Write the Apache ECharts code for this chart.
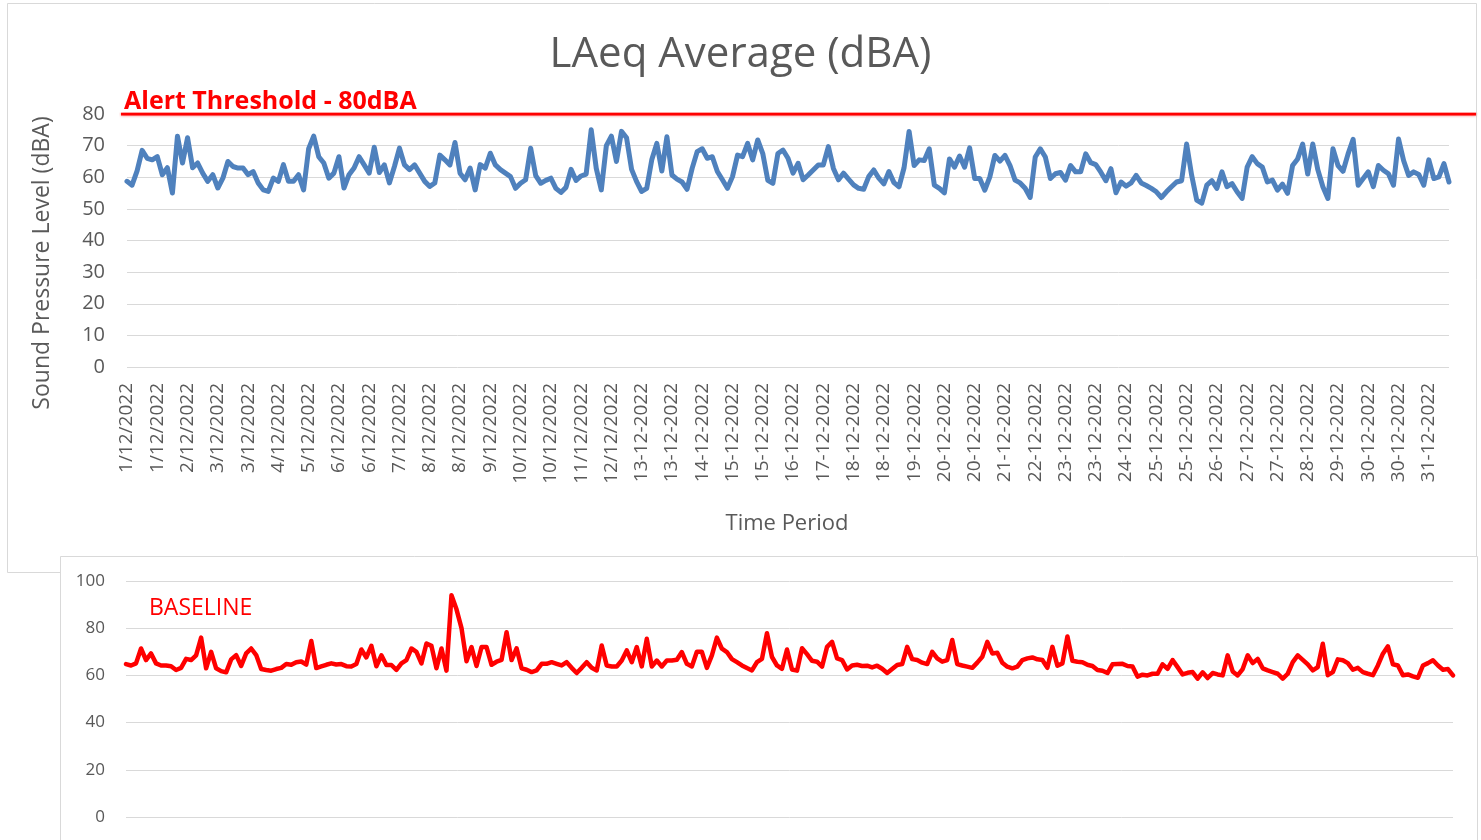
<!DOCTYPE html>
<html>
<head>
<meta charset="utf-8">
<script src="https://cdn.jsdelivr.net/npm/echarts@6/dist/echarts.min.js"></script>
<style>
html,body{margin:0;padding:0;background:#fff;}
#chart{width:1481px;height:840px;}
</style>
</head>
<body>
<div id="chart"></div>
<script>
// ---- data ----
const tickLabels = ["1/12/2022","1/12/2022","2/12/2022","3/12/2022","3/12/2022","4/12/2022","5/12/2022","6/12/2022","6/12/2022","7/12/2022","8/12/2022","8/12/2022","9/12/2022","10/12/2022","10/12/2022","11/12/2022","12/12/2022","13-12-2022","13-12-2022","14-12-2022","15-12-2022","15-12-2022","16-12-2022","17-12-2022","18-12-2022","18-12-2022","19-12-2022","20-12-2022","20-12-2022","21-12-2022","22-12-2022","23-12-2022","23-12-2022","24-12-2022","25-12-2022","25-12-2022","26-12-2022","27-12-2022","27-12-2022","28-12-2022","29-12-2022","30-12-2022","30-12-2022","31-12-2022"];
const pointsPerTick = 6;

const laeq = [58.7,57.5,62,68.5,66,65.5,66.5,60.8,63,55,73,64.5,72.5,63,64.5,61.3,58.7,60.8,56.6,59.7,
65,63.4,62.9,62.9,60.8,61.8,58.2,56,55.5,59.7,58.7,64,58.7,58.7,60.8,56,69,73,66.5,64.5,
59.7,61.3,66.5,56.6,60.8,62.9,66.5,63.9,61.3,69.5,61.5,63.9,58.2,63.4,69.2,63.9,62.4,63.9,61.3,58.7,
57.1,58.2,67,65.5,63.9,71,61.3,59.2,62.9,56,64,62.9,67.6,63.9,62.4,61.3,60.2,56.5,58.1,59.2,
69.2,60.5,58.1,59,59.7,56.5,55.2,56.8,62.5,59,60.4,61,75,62.8,56,70,73,65,74.5,72.5,
62.5,58.6,55.5,56.5,65.5,70.7,62,72.8,60.7,59.4,58.5,56.2,62.8,68.1,69,66,66.5,61.8,59.2,56.5,
60.2,67,66.5,70.7,65.5,71.8,67.5,59,58.1,67.5,68.6,66,61.3,64.4,59.2,60.7,62.3,63.9,63.9,69.7,
62.8,59.2,61.3,59.4,57.6,56.5,56.2,60.2,62.3,59.7,57.9,61.8,58.3,57,63,74.5,63.7,65.5,65.3,69,
57.5,56.5,55.1,65.8,63.2,66.7,63.2,69.3,59.6,59.6,55.9,60.1,66.9,65.1,66.9,63.7,59.1,58.2,56.5,53.6,
66.4,69,66.4,59.6,61.1,61.5,59.1,63.7,61.7,61.7,67.4,64.6,64,61.6,58.9,62.7,55.1,58.5,57.2,58.2,
60.6,58.2,57.4,56.5,55.4,53.6,55.4,57,58.5,58.9,70.5,60.6,52.8,51.8,57.5,58.9,56.5,61.7,57,58,
55.4,53.3,63.2,66.5,64.3,63.2,58.5,59.1,55.9,57.8,54.9,63.7,65.8,70.5,61,70.5,62.4,57,53.3,69,
63.7,61.9,67.4,72,57.5,59.6,61.7,57,63.7,62.2,61.1,57.5,72.1,65.3,60.6,61.7,60.9,57.5,65.5,59.6,
60.1,64.3,58.5];

const baseline = [64.8,64.2,65.1,71.4,66.5,69.3,65.1,64.2,64.2,63.9,62.3,63.2,67,66.5,68.5,76,63,70,63,61.8,
61.3,66.8,68.6,64,69.3,71.4,68.6,62.7,62.3,62,62.7,63.2,64.8,64.5,65.6,65.9,64.6,74.6,63.1,63.8,
64.5,65.1,64.6,64.8,63.9,63.8,64.8,71,67.6,72.5,63.9,68.5,64.4,64.4,62.3,65.1,66.5,71.4,70,65.1,
73.5,72.5,63,71.4,62,94,88,80,66,72,64,72,72,64.5,65.8,66.6,78.3,66.5,71.5,63,
62.4,61.4,62.1,64.9,64.9,65.6,64.9,64.2,65.6,63.2,61,63.2,65.6,63.2,62.1,72.7,64.2,63.8,63.8,66.3,
70.6,65.6,72,63.8,75.5,63.8,66.3,63.8,66.3,66.3,66.6,69.9,64.9,63.8,70,70,63.2,68.5,76,71.3,
69.9,66.9,65.6,64.2,63.1,62.1,65.6,67,77.9,67.8,64.2,62.8,71,62.5,62,71.5,69,66.2,65.8,63.7,
72.1,74.2,67.2,66.5,62.5,64.2,64.5,64,64.1,63.4,64.1,62.8,61,62.7,64.4,64.8,72.1,66.9,66.5,65.4,
64.8,70,67.2,65.8,66.5,75,64.8,64.2,63.7,63.2,65.4,67.9,74.2,69.3,69.6,65.4,63.7,63,63.7,66.5,
67.2,67.6,66.8,66.5,63.2,72.1,64.1,65.1,76.5,66.2,65.8,65.6,64.5,64,62.3,62,61,64.7,64.8,64.9,
64,63.8,59.5,60.3,60,60.7,60.7,64.7,62.8,66.5,63.5,60.4,61.1,61.4,58.6,61.3,58.9,61,60.4,60,
68.5,61.7,60,62.7,68.5,65.2,67,63,62.1,61.4,60.7,58.6,60.7,65.6,68.5,66.6,64.7,62.1,63.5,73.4,
60.1,61.4,66.8,66.4,65.2,62.4,63.2,61.4,60.7,60.1,64.2,69.2,72.3,64.7,64.2,60.1,60.4,59.6,59,64.2,
65.2,66.4,64.2,62.4,62.7,60];

const alertThreshold = 80;
const titleText = "LAeq Average (dBA)";
const yAxisTitle = "Sound Pressure Level (dBA)";
const xAxisTitle = "Time Period";
const alertText = "Alert Threshold - 80dBA";
const baselineText = "BASELINE";

// ---- build ----
const catTop = laeq.map((_, i) => (i % pointsPerTick === 0 ? tickLabels[i / pointsPerTick] : ''));
const catBottom = baseline.map((_, i) => String(i));

const FONT = '"Open Sans", "Liberation Sans", sans-serif';
const GREY = '#595959';
const GRID_C = '#d9d9d9';

const chart = echarts.init(document.getElementById('chart'), null, {renderer: 'canvas'});
chart.setOption({
  animation: false,
  backgroundColor: '#ffffff',
  textStyle: {fontFamily: FONT},
  title: {
    text: titleText, left: 'center', top: 29,
    textStyle: {fontSize: 42, fontWeight: 'normal', color: GREY, fontFamily: FONT}
  },
  graphic: [
    {type: 'polyline', silent: true, z: 0,
      shape: {points: [[60.5, 572.5], [7.5, 572.5], [7.5, 3.5], [1476.5, 3.5], [1476.5, 556]]},
      style: {stroke: GRID_C, fill: null, lineWidth: 1}},
    {type: 'rect', silent: true, z: 0,
      shape: {x: 60.5, y: 556.5, width: 1417, height: 300},
      style: {stroke: GRID_C, fill: 'transparent', lineWidth: 1}},
    {type: 'text', x: 42, y: 263, rotation: Math.PI / 2, silent: true,
      style: {text: yAxisTitle, fontSize: 23, fontFamily: FONT, fill: GREY, align: 'center', verticalAlign: 'middle'}},
    {type: 'text', x: 787, y: 524, silent: true,
      style: {text: xAxisTitle, fontSize: 22, fontFamily: FONT, fill: GREY, align: 'center', verticalAlign: 'middle'}},
    {type: 'text', x: 124, y: 102, silent: true,
      style: {text: alertText, fontSize: 25, fontWeight: 'bold', fontFamily: FONT, fill: '#ff0000', align: 'left', verticalAlign: 'middle'}},
    {type: 'text', x: 149, y: 608, silent: true,
      style: {text: baselineText, fontSize: 23, fontFamily: FONT, fill: '#ff0000', align: 'left', verticalAlign: 'middle'}}
  ],
  grid: [
    {left: 127, right: 32, top: 114, height: 253},
    {left: 126, right: 28, top: 581, height: 236},
    {left: 121, right: 5, top: 114, height: 253}
  ],
  xAxis: [
    {gridIndex: 0, type: 'category', data: catTop, boundaryGap: false,
      axisLine: {show: false}, axisTick: {show: false}, splitLine: {show: false},
      axisLabel: {interval: pointsPerTick - 1, rotate: 90, margin: 16, fontSize: 19, color: GREY, fontFamily: FONT}},
    {gridIndex: 1, type: 'category', data: catBottom, boundaryGap: false, show: false},
    {gridIndex: 2, type: 'value', min: 0, max: 1, show: false}
  ],
  yAxis: [
    {gridIndex: 0, type: 'value', min: 0, max: 80, interval: 10,
      axisLine: {show: false}, axisTick: {show: false},
      axisLabel: {margin: 22, fontSize: 20, color: GREY, fontFamily: FONT},
      splitLine: {lineStyle: {color: GRID_C, width: 1}}},
    {gridIndex: 1, type: 'value', min: 0, max: 100, interval: 20,
      axisLine: {show: false}, axisTick: {show: false},
      axisLabel: {margin: 21, fontSize: 17, color: GREY, fontFamily: FONT},
      splitLine: {lineStyle: {color: GRID_C, width: 1}}},
    {gridIndex: 2, type: 'value', min: 0, max: 80, show: false}
  ],
  series: [
    {name: 'LAeq', type: 'line', xAxisIndex: 0, yAxisIndex: 0, data: laeq,
      showSymbol: false, symbol: 'none', lineStyle: {color: '#4f81bd', width: 5, join: 'round', cap: 'round'}, z: 3},
    {name: 'Baseline', type: 'line', xAxisIndex: 1, yAxisIndex: 1, data: baseline,
      showSymbol: false, symbol: 'none', lineStyle: {color: '#ff0000', width: 4.5, join: 'round', cap: 'round'}, z: 3},
    {name: 'Alert', type: 'line', xAxisIndex: 2, yAxisIndex: 2,
      data: [[0, alertThreshold], [1, alertThreshold]],
      showSymbol: false, symbol: 'none',
      lineStyle: {color: '#ff0000', width: 3, shadowBlur: 3, shadowColor: 'rgba(255,0,0,0.6)'}, z: 4}
  ]
});
</script>
</body>
</html>
